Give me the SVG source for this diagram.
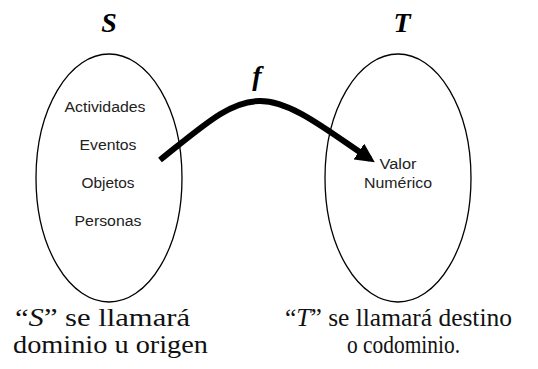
<svg xmlns="http://www.w3.org/2000/svg" width="538" height="369" viewBox="0 0 538 369">
<style>
.set{fill:none;stroke:#000;stroke-width:1.3}
.lbl{font-family:"Liberation Sans",Arial,sans-serif;font-size:14px;fill:#222;text-anchor:middle}
.big{font-family:"Liberation Serif","Times New Roman",serif;font-size:28px;font-style:italic;font-weight:bold;fill:#000;text-anchor:middle}
.cap{font-family:"Liberation Serif","Times New Roman",serif;font-size:25px;fill:#111}
</style>
<defs>
<marker id="ah" viewBox="0 0 10 10" refX="7" refY="5" markerWidth="3.2" markerHeight="3.2" orient="auto" markerUnits="strokeWidth">
<path d="M0,0 L10,5 L0,10 z" fill="#000"/>
</marker>
</defs>
<rect width="538" height="369" fill="#fff"/>
<g id="S">
<ellipse class="set" cx="109" cy="178" rx="73" ry="124"/>
<text class="big" x="109" y="32">S</text>
<text class="lbl" x="105" y="112" textLength="81" lengthAdjust="spacingAndGlyphs">Actividades</text>
<text class="lbl" x="108" y="150" textLength="57" lengthAdjust="spacingAndGlyphs">Eventos</text>
<text class="lbl" x="108" y="188" textLength="53" lengthAdjust="spacingAndGlyphs">Objetos</text>
<text class="lbl" x="108" y="226" textLength="67" lengthAdjust="spacingAndGlyphs">Personas</text>
</g>
<g id="T">
<ellipse class="set" cx="398" cy="178" rx="73" ry="124"/>
<text class="big" x="402" y="32">T</text>
<text class="lbl" x="398" y="169" textLength="37" lengthAdjust="spacingAndGlyphs">Valor</text>
<text class="lbl" x="398" y="188" textLength="68" lengthAdjust="spacingAndGlyphs">Numérico</text>
</g>
<g id="connectors">
<path d="M160,160 C205,124 230,101 260,101 C292,101 328,131 370,159" fill="none" stroke="#000" stroke-width="6" marker-end="url(#ah)"/>
<text class="big" x="257" y="85" style="font-size:28px">f</text>
</g>
<g id="captions">
<text class="cap" x="15" y="326" textLength="175" lengthAdjust="spacingAndGlyphs">“<tspan font-style="italic">S</tspan>” se llamará</text>
<text class="cap" x="13" y="353" textLength="195" lengthAdjust="spacingAndGlyphs">dominio u origen</text>
<text class="cap" x="285" y="326" textLength="227" lengthAdjust="spacingAndGlyphs">“<tspan font-style="italic">T</tspan>” se llamará destino</text>
<text class="cap" x="347" y="353" textLength="113" lengthAdjust="spacingAndGlyphs">o codominio.</text>
</g>
</svg>
